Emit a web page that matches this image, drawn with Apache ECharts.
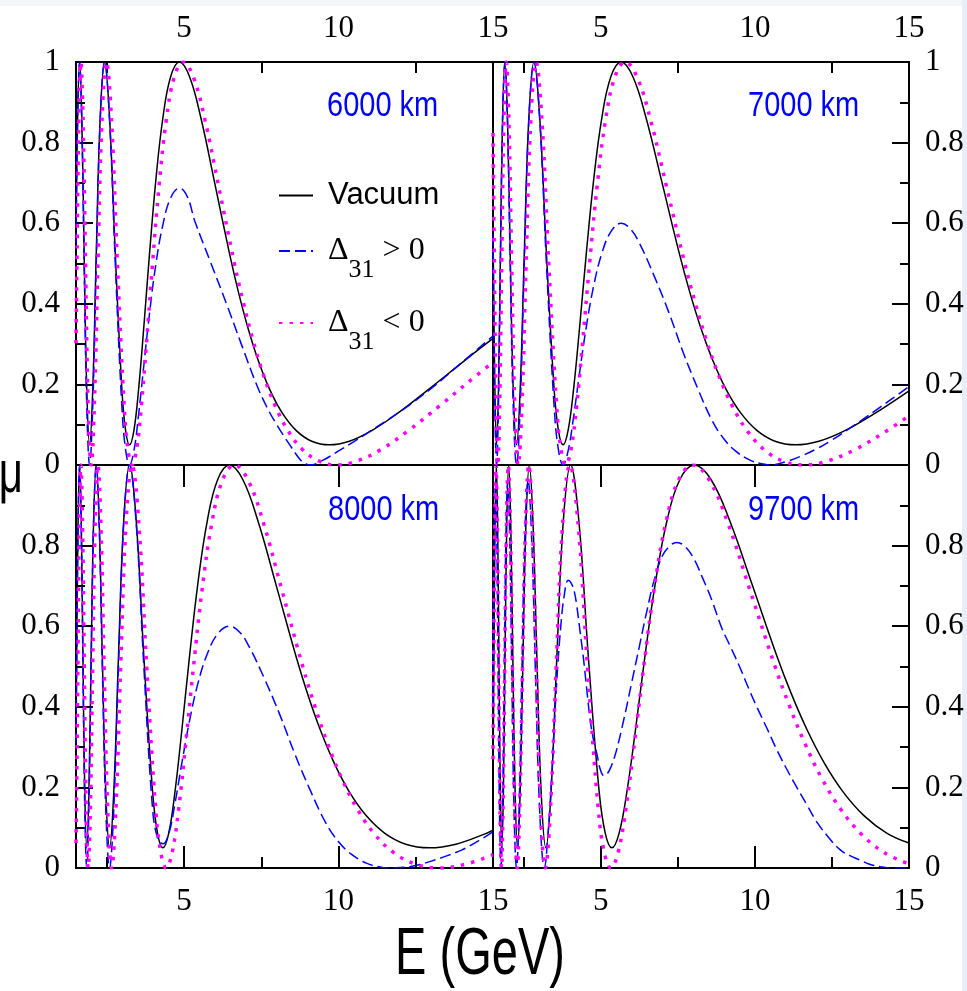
<!DOCTYPE html>
<html><head><meta charset="utf-8">
<script src="https://cdn.jsdelivr.net/npm/echarts@6/dist/echarts.min.js"></script>
<style>html,body{margin:0;padding:0;background:#fff}#c{width:967px;height:991px}</style>
</head><body><div id="c"></div>
<script>
const energyMajor = [5, 10, 15];
const energyMinor = [2.5, 7.5, 12.5];
const baselines = ['6000 km', '7000 km', '8000 km', '9700 km'];
const legendNames = ['Vacuum', 'Δ31 > 0', 'Δ31 < 0'];

const vac6000 = [[1.5,0.572],[1.552,0.861],[1.617,1],[1.687,0.861],[1.764,0.525],[1.848,0.189],[1.94,0.05],[2.043,0.189],[2.156,0.525],[2.283,0.861],[2.426,1],[2.587,0.861],[2.772,0.525],[2.985,0.189],[3.105,0.086],[3.234,0.05],[3.375,0.086],[3.528,0.189],[3.696,0.343],[3.881,0.525],[4.085,0.707],[4.312,0.861],[4.566,0.964],[4.851,1],[5.174,0.964],[5.544,0.861],[5.971,0.707],[6.468,0.525],[6.749,0.432],[7.056,0.343],[7.392,0.261],[7.762,0.189],[8.17,0.13],[8.624,0.086],[9.131,0.059],[9.702,0.05],[10.349,0.059],[11.088,0.086],[11.941,0.13],[12.936,0.189],[14.112,0.261],[15,0.314]];
const vac7000 = [[1.5,0.593],[1.509,0.525],[1.561,0.189],[1.617,0.05],[1.677,0.189],[1.741,0.525],[1.811,0.861],[1.887,1],[1.969,0.861],[2.058,0.525],[2.156,0.189],[2.264,0.05],[2.383,0.189],[2.515,0.525],[2.663,0.861],[2.83,1],[3.018,0.861],[3.234,0.525],[3.483,0.189],[3.622,0.086],[3.773,0.05],[3.937,0.086],[4.116,0.189],[4.312,0.343],[4.528,0.525],[4.766,0.707],[5.031,0.861],[5.327,0.964],[5.66,1],[6.037,0.964],[6.468,0.861],[6.966,0.707],[7.546,0.525],[7.874,0.432],[8.232,0.343],[8.624,0.261],[9.055,0.189],[9.532,0.13],[10.062,0.086],[10.653,0.059],[11.319,0.05],[12.074,0.059],[12.936,0.086],[13.931,0.13],[15,0.184]];
const vac8000 = [[1.5,0.345],[1.522,0.525],[1.568,0.861],[1.617,1],[1.669,0.861],[1.725,0.525],[1.784,0.189],[1.848,0.05],[1.917,0.189],[1.99,0.525],[2.07,0.861],[2.156,1],[2.25,0.861],[2.352,0.525],[2.464,0.189],[2.587,0.05],[2.723,0.189],[2.875,0.525],[3.044,0.861],[3.234,1],[3.45,0.861],[3.696,0.525],[3.98,0.189],[4.14,0.086],[4.312,0.05],[4.5,0.086],[4.704,0.189],[4.928,0.343],[5.175,0.525],[5.447,0.707],[5.749,0.861],[6.088,0.964],[6.468,1],[6.899,0.964],[7.392,0.861],[7.961,0.707],[8.624,0.525],[8.999,0.432],[9.408,0.343],[9.856,0.261],[10.349,0.189],[10.894,0.13],[11.499,0.086],[12.175,0.059],[12.936,0.05],[13.799,0.059],[14.784,0.086],[15,0.094]];
const vac9700 = [[1.5,0.227],[1.531,0.525],[1.568,0.861],[1.608,1],[1.649,0.861],[1.692,0.525],[1.738,0.189],[1.786,0.05],[1.837,0.189],[1.891,0.525],[1.948,0.861],[2.009,1],[2.074,0.861],[2.143,0.525],[2.217,0.189],[2.296,0.05],[2.381,0.189],[2.473,0.525],[2.572,0.861],[2.679,1],[2.796,0.861],[2.923,0.525],[3.062,0.189],[3.215,0.05],[3.384,0.189],[3.572,0.525],[3.782,0.861],[4.019,1],[4.287,0.861],[4.593,0.525],[4.946,0.189],[5.144,0.086],[5.358,0.05],[5.591,0.086],[5.845,0.189],[6.124,0.343],[6.43,0.525],[6.768,0.707],[7.144,0.861],[7.565,0.964],[8.038,1],[8.573,0.964],[9.186,0.861],[9.892,0.707],[10.717,0.525],[11.183,0.432],[11.691,0.343],[12.248,0.261],[12.86,0.189],[13.537,0.13],[14.289,0.086],[15,0.062]];

const blu6000 = [[1.5,0.55],[1.552,0.854],[1.617,1],[1.687,0.854],[1.764,0.5],[1.848,0.146],[1.94,0],[2.043,0.146],[2.156,0.5],[2.283,0.854],[2.426,1],[2.587,0.854],[2.772,0.5],[2.985,0.146],[3.105,0.038],[3.234,0],[3.375,0.035],[3.528,0.126],[3.696,0.247],[3.881,0.377],[4.085,0.498],[4.312,0.596],[4.566,0.663],[4.851,0.687],[5.103,0.666],[5.348,0.605],[5.863,0.502],[6.382,0.398],[6.876,0.295],[7.348,0.199],[7.677,0.144],[7.998,0.1],[8.437,0.048],[8.775,0.012],[8.943,0.003],[9.07,0],[9.5,0.012],[10,0.035],[10.5,0.058],[11,0.083],[12,0.133],[13,0.19],[14,0.255],[15,0.32]];
const blu7000 = [[1.5,0.572],[1.509,0.5],[1.561,0.146],[1.617,0],[1.677,0.146],[1.741,0.5],[1.811,0.854],[1.887,1],[1.969,0.854],[2.058,0.5],[2.156,0.146],[2.264,0],[2.383,0.146],[2.515,0.5],[2.663,0.854],[2.83,1],[3.018,0.854],[3.234,0.5],[3.483,0.146],[3.622,0.038],[3.773,0],[3.937,0.035],[4.116,0.12],[4.312,0.23],[4.528,0.343],[4.766,0.444],[5.031,0.525],[5.327,0.579],[5.66,0.6],[5.97,0.585],[6.255,0.55],[6.725,0.47],[7.199,0.38],[7.669,0.28],[8.143,0.19],[8.612,0.11],[8.99,0.065],[9.367,0.035],[9.842,0.012],[10.219,0.003],[10.5,0],[11,0.008],[11.5,0.022],[12,0.04],[12.5,0.062],[13,0.087],[13.5,0.113],[14,0.14],[14.5,0.167],[15,0.195]];
const blu8000 = [[1.5,0.31],[1.522,0.5],[1.568,0.854],[1.617,1],[1.669,0.854],[1.725,0.5],[1.784,0.146],[1.848,0],[1.917,0.146],[1.99,0.5],[2.07,0.854],[2.156,1],[2.25,0.854],[2.352,0.5],[2.464,0.146],[2.587,0],[2.723,0.146],[2.875,0.5],[3.044,0.854],[3.234,1],[3.45,0.854],[3.696,0.5],[3.98,0.146],[4.14,0.075],[4.312,0.06],[4.5,0.084],[4.704,0.16],[4.928,0.261],[5.175,0.365],[5.447,0.458],[5.749,0.531],[6.088,0.581],[6.468,0.6],[6.8,0.585],[7.1,0.55],[7.6,0.47],[8.1,0.38],[8.6,0.28],[9.1,0.19],[9.6,0.11],[10,0.065],[10.4,0.035],[10.9,0.012],[11.3,0.003],[11.6,0],[12,0.001],[12.5,0.006],[13,0.017],[13.5,0.03],[14,0.045],[14.5,0.066],[15,0.09]];
const blu9700 = [[1.5,0.4],[1.508,0.48],[1.545,0.82],[1.583,0.96],[1.624,0.82],[1.667,0.48],[1.712,0.14],[1.759,0],[1.809,0.14],[1.863,0.48],[1.919,0.82],[1.979,0.96],[2.043,0.82],[2.111,0.48],[2.184,0.14],[2.262,0],[2.345,0.14],[2.436,0.48],[2.533,0.82],[2.639,0.96],[2.754,0.82],[2.879,0.48],[3.016,0.14],[3.167,0],[3.3,0.1],[3.4,0.22],[3.5,0.37],[3.6,0.5],[3.7,0.6],[3.8,0.67],[3.94,0.714],[4.05,0.705],[4.14,0.685],[4.22,0.65],[4.32,0.59],[4.43,0.524],[4.54,0.445],[4.65,0.37],[4.76,0.318],[4.87,0.284],[4.98,0.245],[5.1,0.229],[5.22,0.235],[5.35,0.255],[5.5,0.29],[5.75,0.37],[6,0.46],[6.25,0.55],[6.5,0.64],[6.75,0.72],[7,0.775],[7.25,0.8],[7.46,0.808],[7.7,0.8],[8,0.77],[8.3,0.72],[8.6,0.665],[8.9,0.6],[9.2,0.55],[9.5,0.5],[9.8,0.445],[10.06,0.4],[10.4,0.345],[10.7,0.295],[11,0.25],[11.36,0.2],[11.7,0.155],[12,0.115],[12.4,0.075],[12.77,0.045],[13.1,0.03],[13.4,0.02],[13.7,0.01],[14.07,0.003],[14.5,0],[15,0]];

const mag6000 = [[1.5,0.302],[1.53,0.5],[1.591,0.854],[1.657,1],[1.729,0.854],[1.808,0.5],[1.894,0.146],[1.989,0],[2.093,0.146],[2.21,0.5],[2.34,0.854],[2.486,1],[2.652,0.854],[2.841,0.5],[3.06,0.146],[3.182,0.038],[3.315,0],[3.459,0.038],[3.616,0.146],[3.788,0.309],[3.978,0.5],[4.187,0.691],[4.419,0.854],[4.679,0.962],[4.972,1],[5.303,0.962],[5.682,0.854],[6.119,0.691],[6.629,0.5],[6.917,0.403],[7.232,0.309],[7.576,0.222],[7.955,0.146],[8.374,0.084],[8.839,0.038],[9.359,0.01],[9.944,0],[10.607,0.01],[11.364,0.038],[12.238,0.084],[13.258,0.146],[14.464,0.222],[15,0.255]];
const mag7000 = [[1.5,0.824],[1.545,0.5],[1.598,0.146],[1.655,0],[1.716,0.146],[1.783,0.5],[1.854,0.854],[1.931,1],[2.015,0.854],[2.107,0.5],[2.207,0.146],[2.317,0],[2.439,0.146],[2.575,0.5],[2.726,0.854],[2.897,1],[3.09,0.854],[3.31,0.5],[3.565,0.146],[3.708,0.038],[3.862,0],[4.03,0.038],[4.213,0.146],[4.414,0.309],[4.635,0.5],[4.878,0.691],[5.149,0.854],[5.452,0.962],[5.793,1],[6.179,0.962],[6.621,0.854],[7.13,0.691],[7.724,0.5],[8.06,0.403],[8.426,0.309],[8.828,0.222],[9.269,0.146],[9.757,0.084],[10.299,0.038],[10.905,0.01],[11.586,0],[12.359,0.01],[13.241,0.038],[14.26,0.084],[15,0.122]];
const mag8000 = [[1.5,0.062],[1.516,0.146],[1.56,0.5],[1.607,0.854],[1.658,1],[1.711,0.854],[1.768,0.5],[1.829,0.146],[1.894,0],[1.965,0.146],[2.04,0.5],[2.122,0.854],[2.21,1],[2.306,0.854],[2.411,0.5],[2.526,0.146],[2.652,0],[2.792,0.146],[2.947,0.5],[3.12,0.854],[3.315,1],[3.536,0.854],[3.789,0.5],[4.08,0.146],[4.244,0.038],[4.42,0],[4.613,0.038],[4.822,0.146],[5.052,0.309],[5.305,0.5],[5.584,0.691],[5.894,0.854],[6.241,0.962],[6.631,1],[7.073,0.962],[7.578,0.854],[8.161,0.691],[8.841,0.5],[9.225,0.403],[9.645,0.309],[10.104,0.222],[10.609,0.146],[11.167,0.084],[11.788,0.038],[12.481,0.01],[13.261,0],[14.145,0.01],[15,0.033]];
const mag9700 = [[1.5,0.27],[1.522,0.5],[1.559,0.854],[1.598,1],[1.639,0.854],[1.682,0.5],[1.727,0.146],[1.775,0],[1.826,0.146],[1.88,0.5],[1.937,0.854],[1.997,1],[2.062,0.854],[2.131,0.5],[2.204,0.146],[2.283,0],[2.367,0.146],[2.458,0.5],[2.557,0.854],[2.663,1],[2.779,0.854],[2.905,0.5],[3.044,0.146],[3.196,0],[3.364,0.146],[3.551,0.5],[3.76,0.854],[3.995,1],[4.261,0.854],[4.565,0.5],[4.917,0.146],[5.113,0.038],[5.326,0],[5.558,0.038],[5.81,0.146],[6.087,0.309],[6.392,0.5],[6.728,0.691],[7.102,0.854],[7.519,0.962],[7.989,1],[8.522,0.962],[9.131,0.854],[9.833,0.691],[10.653,0.5],[11.116,0.403],[11.621,0.309],[12.174,0.222],[12.783,0.146],[13.456,0.084],[14.203,0.038],[15,0.01]];

const vacuumSets = [vac6000, vac7000, vac8000, vac9700];
const normalSets = [blu6000, blu7000, blu8000, blu9700];
const invertedSets = [mag6000, mag7000, mag8000, mag9700];

const grids = [
  {left: 76, top: 62, width: 417, height: 403},
  {left: 493, top: 62, width: 416, height: 403},
  {left: 76, top: 465, width: 417, height: 403},
  {left: 493, top: 465, width: 416, height: 403}
].map(g => Object.assign(g, {show: true, borderColor: '#000', borderWidth: 2, backgroundColor: 'transparent'}));

const tickFont = {color: '#000', fontFamily: '"Liberation Serif", "Times New Roman", serif', fontSize: 31};
const xAxes = [], yAxes = [], series = [];
for (let i = 0; i < 4; i++) {
  const pos = i < 2 ? 'top' : 'bottom';
  xAxes.push({gridIndex: i, type: 'value', min: 1.5, max: 15, position: pos,
    axisLine: {show: false}, splitLine: {show: false},
    axisTick: {show: true, inside: true, length: 22, customValues: energyMajor, lineStyle: {color: '#000', width: 2}},
    axisLabel: Object.assign({show: true, customValues: energyMajor, margin: 18}, tickFont)});
  xAxes.push({gridIndex: i, type: 'value', min: 1.5, max: 15, position: pos, offset: 0,
    axisLine: {show: false}, splitLine: {show: false},
    axisTick: {show: true, inside: true, length: 11, customValues: energyMinor, lineStyle: {color: '#000', width: 2}},
    axisLabel: {show: false}});
  yAxes.push({gridIndex: i, type: 'value', min: 0, max: 1, interval: 0.2, position: i % 2 === 0 ? 'left' : 'right',
    axisLine: {show: false}, splitLine: {show: false},
    axisTick: {show: true, inside: true, length: 17, lineStyle: {color: '#000', width: 2}},
    minorTick: {show: true, splitNumber: 2, length: 9, lineStyle: {color: '#000', width: 2}},
    minorSplitLine: {show: false},
    axisLabel: Object.assign({margin: 16, formatter: v => {
      const r = Math.round(v * 10) / 10;
      if (i >= 2 && r === 1) return '';
      return String(r);
    }}, tickFont)});
  series.push({type: 'line', name: legendNames[0], xAxisIndex: 2 * i, yAxisIndex: i, data: vacuumSets[i],
    symbol: 'none', smooth: 0.4, lineStyle: {color: '#000', width: 1.5}, itemStyle: {color: '#000'}, z: 2});
  series.push({type: 'line', name: legendNames[1], xAxisIndex: 2 * i, yAxisIndex: i, data: normalSets[i],
    symbol: 'none', smooth: 0.4, lineStyle: {color: '#0000ff', width: 1.5, type: [11, 5]}, itemStyle: {color: '#0000ff'}, z: 3});
  series.push({type: 'line', name: legendNames[2], xAxisIndex: 2 * i, yAxisIndex: i, data: invertedSets[i],
    symbol: 'none', smooth: 0.4, lineStyle: {color: '#ff00ff', width: 3.5, type: [3.5, 7]}, itemStyle: {color: '#ff00ff'}, z: 4});
}

const labelPos = [[327, 106], [748, 106], [328, 510], [748, 510]];
const graphics = [
  {type: 'rect', shape: {x: 0, y: 0, width: 967, height: 6}, style: {fill: '#f3f5f9'}, silent: true, z: -10},
  {type: 'rect', shape: {x: 962, y: 0, width: 5, height: 991}, style: {fill: '#e7eef9'}, silent: true, z: -10}
];
baselines.forEach((t, i) => {
  graphics.push({type: 'text', x: labelPos[i][0], y: labelPos[i][1], scaleY: 1.2,
    style: {text: t, fill: '#0000ff', font: '29px "Liberation Sans", Arial, sans-serif', align: 'left', textAlign: 'left', verticalAlign: 'middle', textVerticalAlign: 'middle'}});
});
graphics.push({type: 'text', x: 480, y: 956, scaleY: 1.42,
  style: {text: 'E (GeV)', fill: '#000', font: '47px "Liberation Sans", Arial, sans-serif', align: 'center', textAlign: 'center', verticalAlign: 'middle', textVerticalAlign: 'middle'}});
graphics.push({type: 'text', x: 23, y: 476, scaleY: 1.4,
  style: {text: 'Pμμ', fill: '#000', font: '42px "Liberation Sans", Arial, sans-serif', align: 'right', textAlign: 'right', verticalAlign: 'middle', textVerticalAlign: 'middle'}});

const option = {
  animation: false,
  backgroundColor: '#ffffff',
  grid: grids,
  xAxis: xAxes,
  yAxis: yAxes,
  series: series,
  legend: {
    data: legendNames, orient: 'vertical', left: 278, top: 180, padding: 0, itemGap: 24,
    itemWidth: 34, itemHeight: 14, selectedMode: false,
    itemStyle: {opacity: 0},
    formatter: name => name === 'Vacuum' ? '{a|Vacuum}' : '{d|Δ}{s|31}{t|' + name.slice(3) + '}',
    textStyle: {color: '#000', rich: {
      a: {fontFamily: '"Liberation Sans", Arial, sans-serif', fontSize: 31, color: '#000', padding: [0, 0, 0, 10]},
      d: {fontFamily: '"Liberation Serif", serif', fontSize: 32, color: '#000', padding: [0, 0, 0, 10]},
      s: {fontFamily: '"Liberation Serif", serif', fontSize: 26, color: '#000', padding: [38, 0, 0, 0]},
      t: {fontFamily: '"Liberation Serif", serif', fontSize: 32, color: '#000'}
    }}
  },
  graphic: graphics
};
const chart = echarts.init(document.getElementById('c'), null, {renderer: 'canvas'});
chart.setOption(option);
</script></body></html>
